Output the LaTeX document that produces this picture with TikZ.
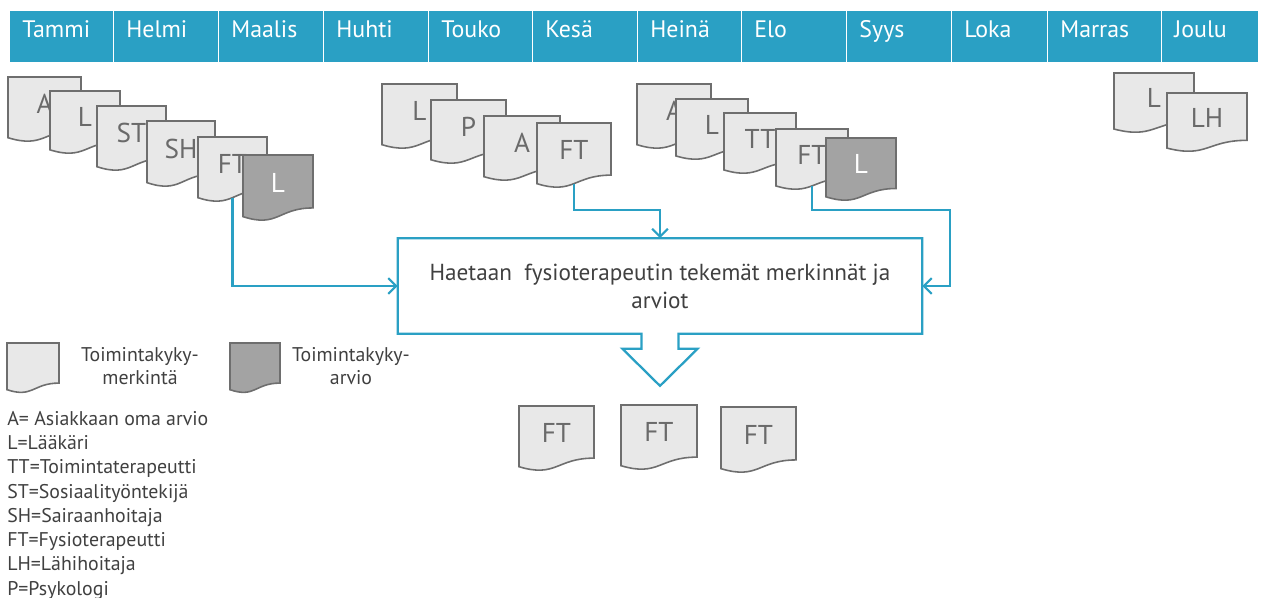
\documentclass[tikz,border=0pt]{standalone}
\usepackage{fontspec}
\setmainfont{PT Sans}
\usetikzlibrary{arrows.meta,calc}
\definecolor{mbar}{HTML}{2AA0C4}
\definecolor{docfill}{HTML}{E8E8E8}
\definecolor{docdark}{HTML}{A3A3A3}
\definecolor{docline}{HTML}{6E6E6E}
\definecolor{doctext}{HTML}{6A6A6A}
\definecolor{maintext}{HTML}{404040}
\tikzset{
  cell/.style={draw=white, line width=0.8pt, fill=mbar, anchor=north west, minimum height=1.04cm, inner sep=0pt},
  monthtext/.style={anchor=base west, text=white, inner sep=0pt, font=\fontsize{13.6}{15}\selectfont},
  docshape/.style={draw=docline, line width=0.9pt},
  doclabel/.style={inner sep=0pt, font=\fontsize{15.5}{18}\selectfont},
  conn/.style={draw=mbar, line width=1.2pt, -{Straight Barb[length=4.5pt,width=9pt,line width=1.2pt]}},
  boxline/.style={draw=mbar, line width=1.3pt, line join=miter},
  mainbox/.style={minimum width=10.48cm, minimum height=1.9cm, inner sep=0pt, align=center, text=maintext, font=\fontsize{13.2}{15.9}\selectfont},
  legtext/.style={inner sep=0pt, align=center, text=maintext, font=\fontsize{11.3}{13}\selectfont},
  leglist/.style={inner sep=0pt, align=left, anchor=north west, text=maintext, font=\fontsize{11.3}{13.8}\selectfont}
}
% name, x, y, w, h, fill, text colour, label
\newcommand\docu[8]{%
  \begin{scope}[shift={(#2,#3)}]
    \filldraw[docshape, fill=#6] (0,0) -- (#4,0) -- (#4,{0.802*#5})
      .. controls ({0.5*#4},{0.802*#5}) and ({0.5*#4},{1.107*#5}) .. (0,{0.934*#5}) -- cycle;
  \end{scope}
  \node[doclabel, text=#7] (#1) at ({#2+0.5*#4},{#3+0.42*#5}) {#8};
  \coordinate (#1-b) at ({#2+0.5*#4},{#3+0.933*#5});
}
% name, x, width, label
\newcommand\mon[4]{%
  \node[cell, minimum width={#3*0.02cm}] (c#1) at (#2,10) {};
  \node[monthtext] (#1) at (#2+13,38) {#4};
}
\begin{document}
\begin{tikzpicture}[x=0.02cm,y=-0.02cm]
\useasboundingbox (0,0) rectangle (1262,598);
% month bar
\mon{tammi}{9}{104}{Tammi}
\mon{helmi}{113}{105}{Helmi}
\mon{maalis}{218}{105}{Maalis}
\mon{huhti}{323}{105}{Huhti}
\mon{touko}{428}{104}{Touko}
\mon{kesa}{532}{105}{Kesä}
\mon{heina}{637}{104}{Heinä}
\mon{elo}{741}{105}{Elo}
\mon{syys}{846}{105}{Syys}
\mon{loka}{951}{96}{Loka}
\mon{marras}{1047}{114}{Marras}
\mon{joulu}{1161}{97}{Joulu}
% group 1
\docu{ga}{8}{77}{73}{65}{docfill}{doctext}{A}
\docu{gl}{50}{91}{70}{63}{docfill}{doctext}{L}
\docu{gst}{97}{106}{69}{65}{docfill}{doctext}{ST}
\docu{gsh}{147}{121}{68}{66}{docfill}{doctext}{SH}
\docu{gft}{198}{137}{69}{65}{docfill}{doctext}{FT}
\docu{gld}{243}{155}{70}{66}{docdark}{white}{L}
% group 2
\docu{hl}{382}{84}{75}{65}{docfill}{doctext}{L}
\docu{hp}{431}{100}{75}{64}{docfill}{doctext}{P}
\docu{ha}{484}{116}{76}{65}{docfill}{doctext}{A}
\docu{hft}{537}{123}{74}{65}{docfill}{doctext}{FT}
% group 3
\docu{ia}{637}{84}{74}{65}{docfill}{doctext}{A}
\docu{il}{676}{99}{72}{61}{docfill}{doctext}{L}
\docu{itt}{724}{113}{72}{61}{docfill}{doctext}{TT}
\docu{ift}{776}{129}{72}{61}{docfill}{doctext}{FT}
\docu{ild}{826}{138}{70}{63}{docdark}{white}{L}
% group 4
\docu{jl}{1114}{73}{80}{60}{docfill}{doctext}{L}
\docu{jlh}{1167}{93}{80}{59}{docfill}{doctext}{LH}
% main box
\node[mainbox] (box) at (660,286) {Haetaan\ \ fysioterapeutin tekemät merkinnät ja\\arviot};
\draw[boxline] ($(box.south)+(18.5,0)$) -- (box.south east) -- (box.north east) -- (box.north west)
  -- (box.south west) -- ($(box.south)+(-18.5,0)$) -- ($(box.south)+(-18.5,15)$)
  -- ($(box.south)+(-37.5,15)$) -- ($(box.south)+(0,52)$) -- ($(box.south)+(37.5,15)$)
  -- ($(box.south)+(18.5,15)$) -- cycle;
% connectors
\draw[conn] (gft-b) |- (box.west);
\draw[conn] (hft-b) |- ($(box.north)+(0,-28)$) -- (box.north);
\draw[conn] (ift-b) |- ($(box.north east)+(28,-28)$) |- (box.east);
% result docs
\docu{rft1}{519}{406}{75}{65}{docfill}{doctext}{FT}
\docu{rft2}{621}{405}{76}{65}{docfill}{doctext}{FT}
\docu{rft3}{721}{407}{75}{66}{docfill}{doctext}{FT}
% legend
\docu{legm}{7}{343}{52}{50}{docfill}{doctext}{}
\node[legtext] (legmt) at (140,366) {Toimintakyky-\\merkintä};
\docu{lega}{230}{343}{50}{50}{docdark}{white}{}
\node[legtext] (legat) at (351,366) {Toimintakyky-\\arvio};
\node[leglist] (list) at (7,411) {A= Asiakkaan oma arvio\\L=Lääkäri\\TT=Toimintaterapeutti\\ST=Sosiaalityöntekijä\\SH=Sairaanhoitaja\\FT=Fysioterapeutti\\LH=Lähihoitaja\\P=Psykologi};
\end{tikzpicture}
\end{document}
